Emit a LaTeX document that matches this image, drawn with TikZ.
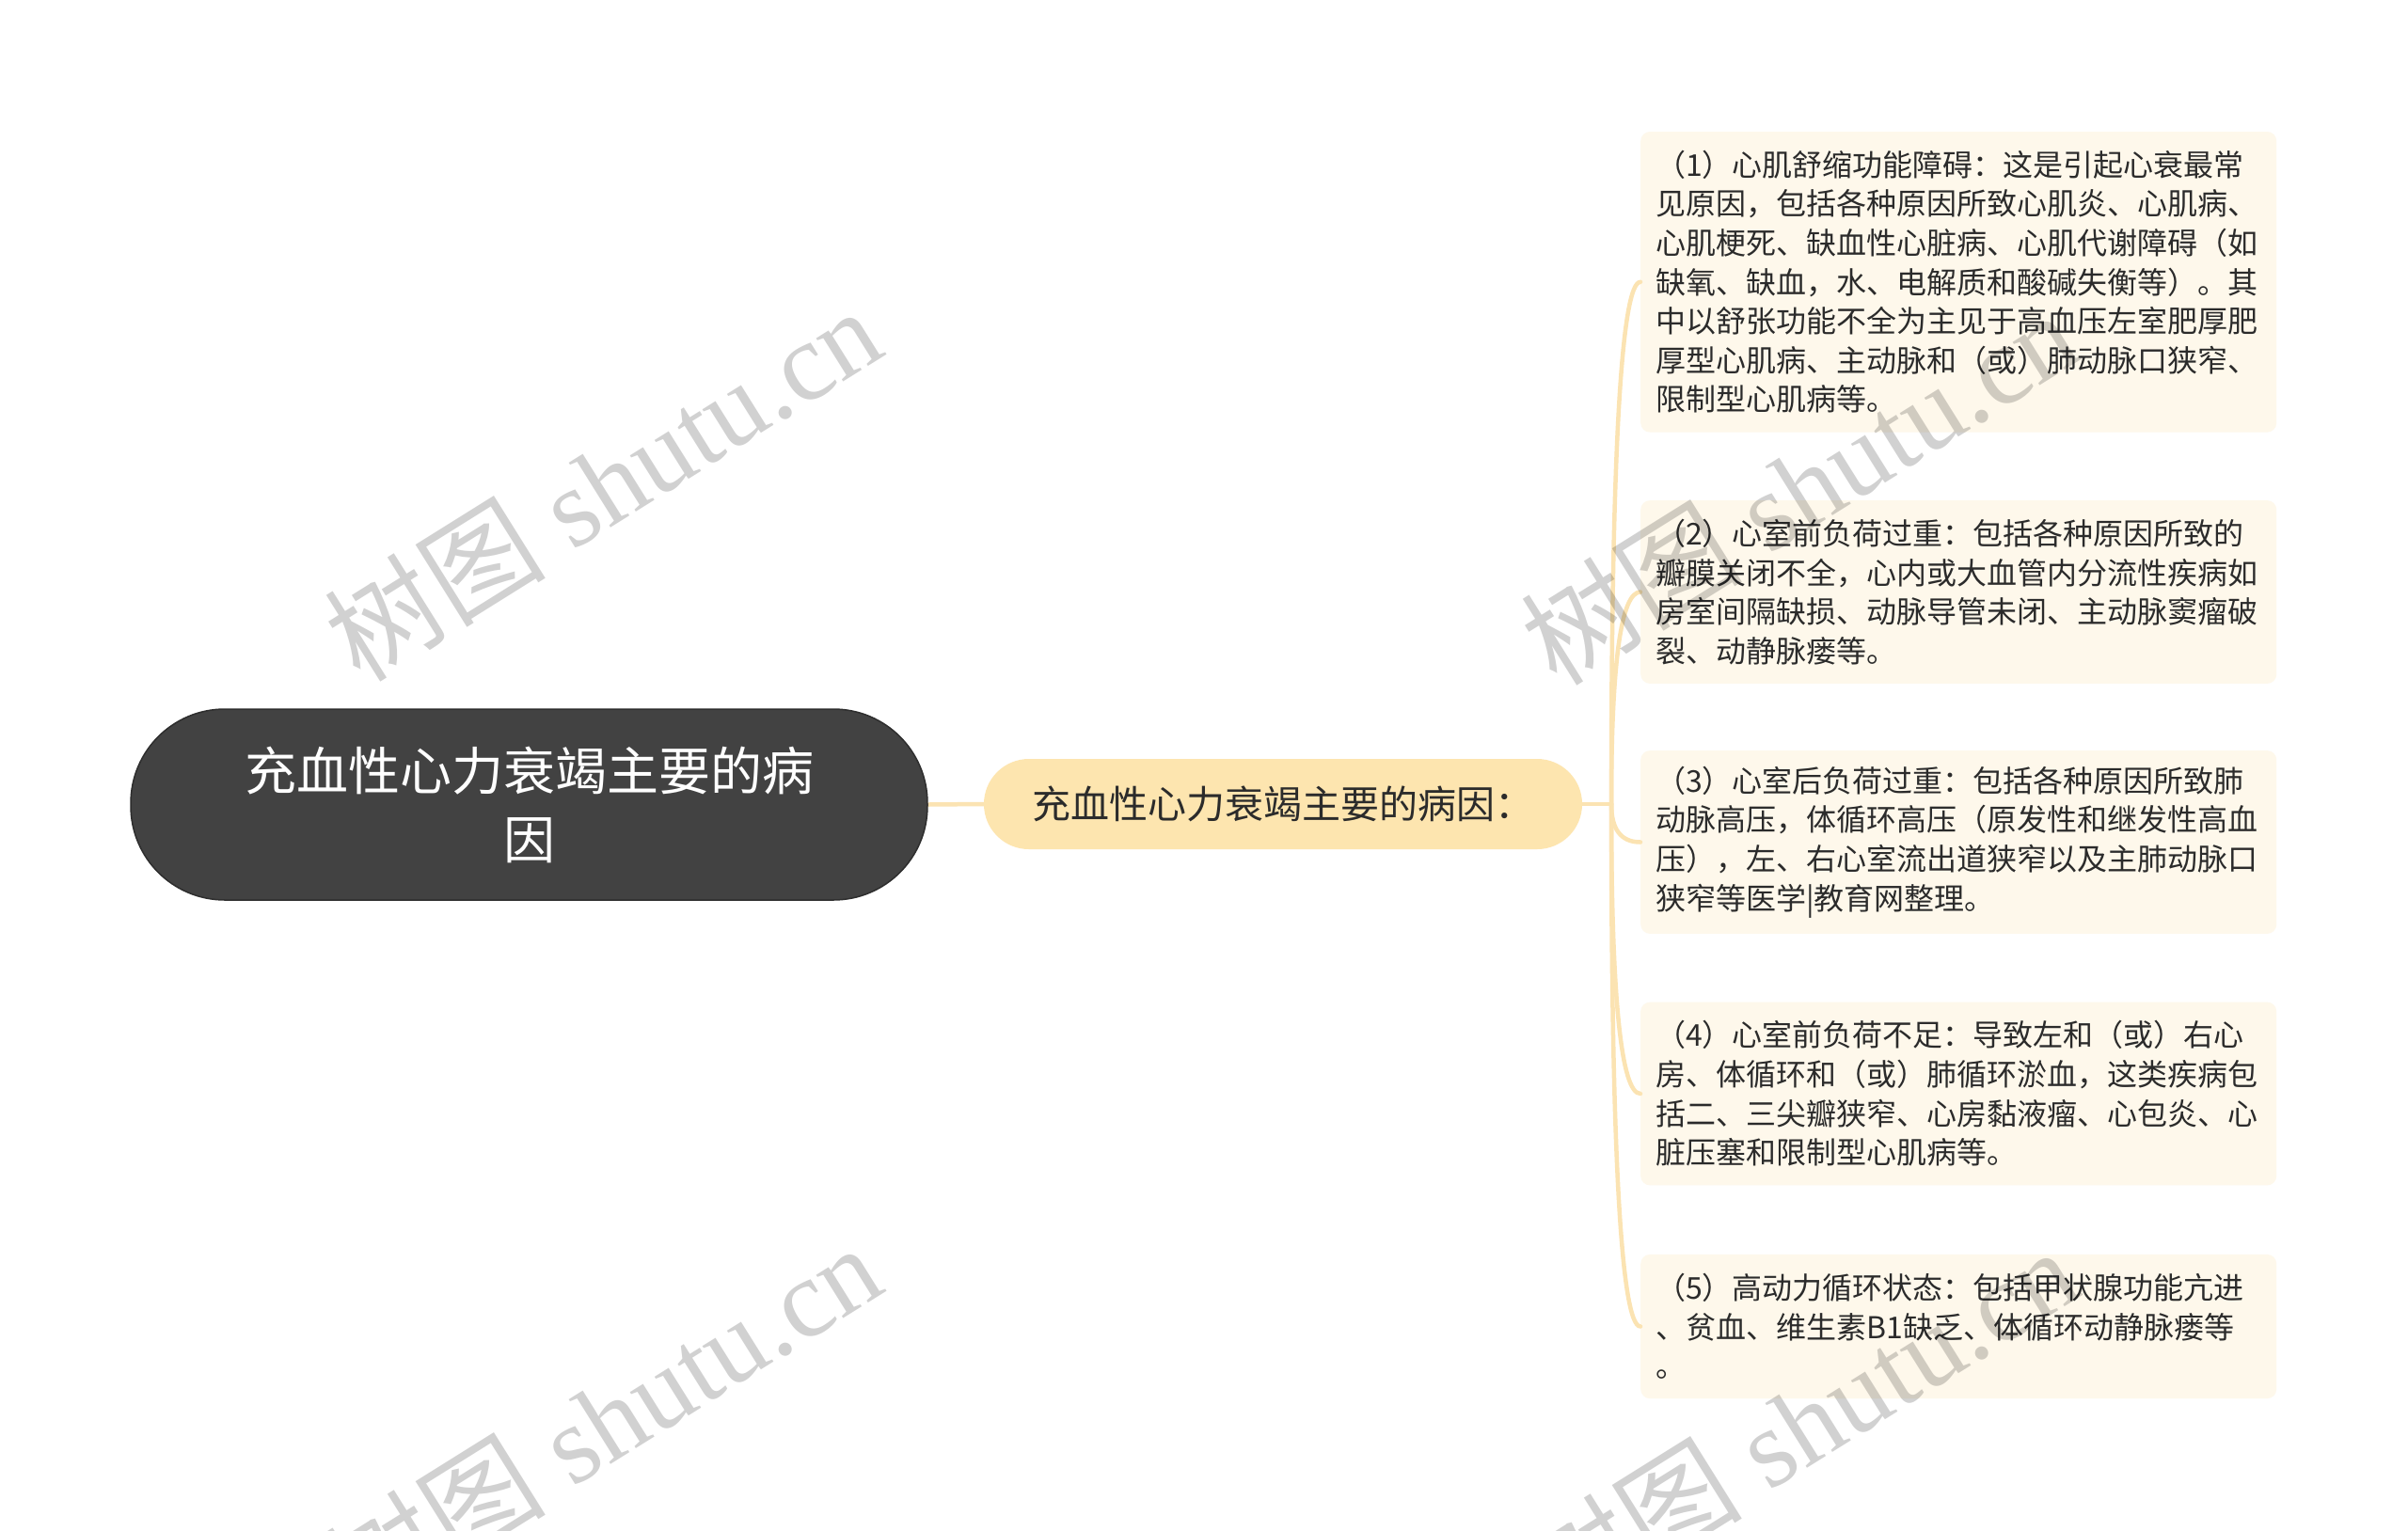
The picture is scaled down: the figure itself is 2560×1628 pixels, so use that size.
\documentclass[tikz,border=0pt]{standalone}
\usepackage{fontspec}
\setmainfont{Liberation Serif}
\newfontfamily\cjk{Noto Sans CJK SC}
\usetikzlibrary{calc}
\definecolor{rootfill}{HTML}{424242}
\definecolor{rootline}{HTML}{2E2E2E}
\definecolor{midfill}{HTML}{FDE5AF}
\definecolor{leaffill}{HTML}{FEF8EB}
\definecolor{linkc}{HTML}{FBE3B2}
\definecolor{textc}{HTML}{2B2B2B}
\tikzset{
  rootnode/.style={fill=rootfill, draw=rootline, line width=1.5pt, rounded corners=100pt,
    minimum width=847pt, minimum height=203pt, inner sep=0pt, text=white, align=center,
    font=\cjk\fontsize{55}{73}\selectfont},
  midnode/.style={fill=midfill, rounded corners=47.9pt, minimum width=636pt, minimum height=96pt,
    inner sep=0pt, text=textc, font=\cjk\fontsize{41}{48}\selectfont},
  leafbox/.style={fill=leaffill, rounded corners=10pt, text width=644pt, inner xsep=16pt,
    inner ysep=0pt, align=left, text=textc, anchor=west, font=\cjk\fontsize{32}{41.6}\selectfont},
  link/.style={draw=linkc, line width=4.5pt},
  wm/.style={text=black, text opacity=0.18, rotate=32, font=\fontsize{118}{118}\selectfont, inner sep=0pt}
}
\begin{document}
\begin{tikzpicture}[x=1pt,y=-1pt]
\useasboundingbox[fill=white] (0,0) rectangle (2560,1628);

\node[rootnode] (root) at (562.5,855.5) {充血性心力衰竭主要的病\\因};
\node[midnode] (mid) at (1364,855) {充血性心力衰竭主要的病因：};
\coordinate (hub) at (1713,855);

\node[leafbox, minimum height=319.6pt] (b1) at (1744,299.8) {（1）心肌舒缩功能障碍：这是引起心衰最常\\见原因，包括各种原因所致心肌炎、心肌病、\\心肌梗死、缺血性心脏病、心肌代谢障碍（如\\缺氧、缺血，水、电解质和酸碱失衡等）。其\\中以舒张功能不全为主见于高血压左室肥厚肥\\厚型心肌病、主动脉和（或）肺动脉口狭窄、\\限制型心肌病等。};
\node[leafbox, minimum height=194.8pt] (b2) at (1744,629.5) {（2）心室前负荷过重：包括各种原因所致的\\瓣膜关闭不全，心内或大血管内分流性疾病如\\房室间隔缺损、动脉导管未闭、主动脉窦瘤破\\裂、动静脉瘘等。};
\node[leafbox, minimum height=194.8pt] (b3) at (1744,895.5) {（3）心室后负荷过重：包括各种原因所致肺\\动脉高压，体循环高压（原发性和继发性高血\\压），左、右心室流出道狭窄以及主肺动脉口\\狭窄等医学|教育网整理。};
\node[leafbox, minimum height=194.8pt] (b4) at (1744,1163) {（4）心室前负荷不足：导致左和（或）右心\\房、体循环和（或）肺循环淤血，这类疾病包\\括二、三尖瓣狭窄、心房黏液瘤、心包炎、心\\脏压塞和限制型心肌病等。};
\node[leafbox, minimum height=153.2pt] (b5) at (1744,1410.5) {（5）高动力循环状态：包括甲状腺功能亢进\\、贫血、维生素B1缺乏、体循环动静脉瘘等\\。};

\draw[link] (root.east) -- (mid.west);
\draw[link] (mid.east) -- (hub);
\foreach \b in {b1,b2,b3,b4,b5}{
  \draw[link, line cap=round] (hub) .. controls ($(hub)!0.667!(hub |- \b.west)$) and ($(\b.west)!0.667!(hub |- \b.west)$) .. (\b.west);
}

\node[wm] (w1) at (640,514) {{\cjk 树图} shutu.cn};
\node[wm] (w2) at (1912,518) {{\cjk 树图} shutu.cn};
\node[wm] (w3) at (640,1510) {{\cjk 树图} shutu.cn};
\node[wm] (w4) at (1912,1514) {{\cjk 树图} shutu.cn};
\end{tikzpicture}
\end{document}
